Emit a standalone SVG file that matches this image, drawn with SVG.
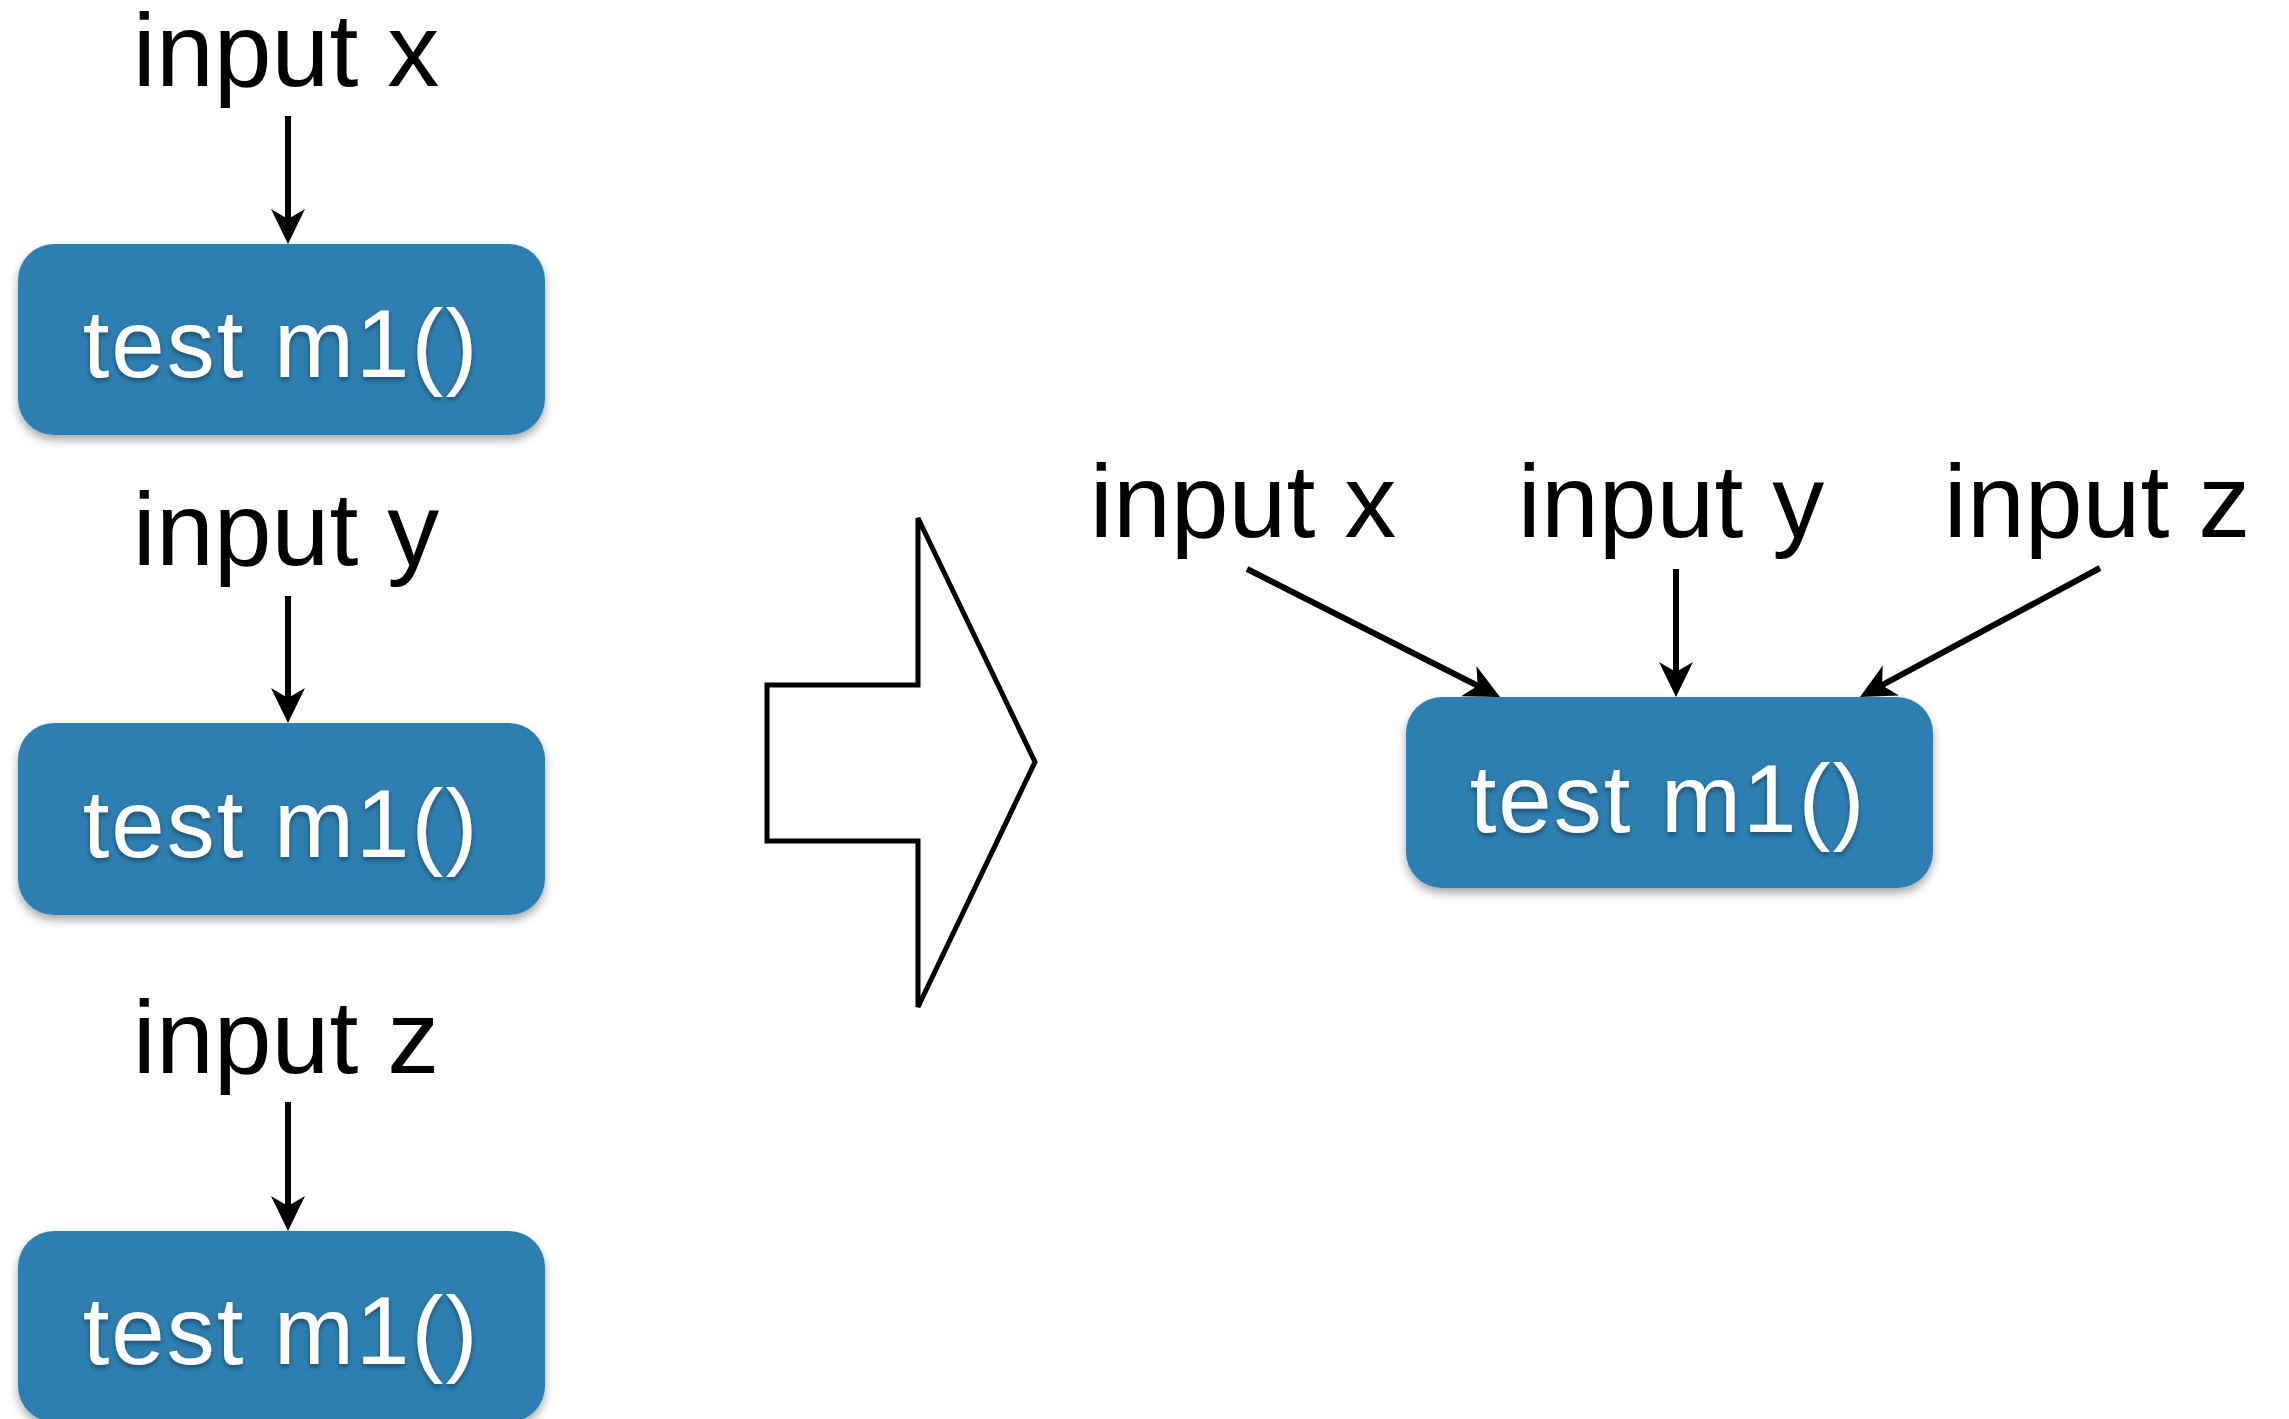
<svg xmlns="http://www.w3.org/2000/svg" width="2289" height="1419" viewBox="0 0 2289 1419">
  <style>
    .label { font-family: "Liberation Sans", Arial, sans-serif; font-size: 104px; fill: #000; text-anchor: middle; }
    .box { fill: #2f7fb1; filter: url(#boxShadow); }
    .boxText { font-family: "Liberation Sans", Arial, sans-serif; font-size: 96px; fill: #fff; text-anchor: middle; letter-spacing: 2px; filter: url(#textShadow); }
    .edge { stroke: #000; stroke-width: 6; fill: none; marker-end: url(#head); }
  </style>
  <defs>
    <marker id="head" markerUnits="userSpaceOnUse" viewBox="0 -18 36 36" refX="10" refY="0" markerWidth="36" markerHeight="36" orient="auto">
      <path d="M35,0 L0,-17 L10,0 L0,17 Z" fill="#000"/>
    </marker>
    <filter id="boxShadow" x="-10%" y="-10%" width="120%" height="130%">
      <feDropShadow dx="0" dy="5" stdDeviation="5" flood-color="#000" flood-opacity="0.35"/>
    </filter>
    <filter id="textShadow" x="-10%" y="-20%" width="120%" height="150%">
      <feDropShadow dx="0" dy="3" stdDeviation="2.5" flood-color="#0b2a40" flood-opacity="0.6"/>
    </filter>
  </defs>

  <!-- left column: one call per input -->
  <g id="label-x1"><text class="label" x="286" y="86">input x</text></g>
  <g id="node-m1-a">
    <rect class="box" x="18" y="244" width="527" height="191" rx="36"/>
    <text class="boxText" x="281" y="377">test m1()</text>
  </g>

  <g id="label-y1"><text class="label" x="286" y="565">input y</text></g>
  <g id="node-m1-b">
    <rect class="box" x="18" y="723" width="527" height="192" rx="36"/>
    <text class="boxText" x="281" y="857">test m1()</text>
  </g>

  <g id="label-z1"><text class="label" x="286" y="1073">input z</text></g>
  <g id="node-m1-c">
    <rect class="box" x="18" y="1231" width="527" height="191" rx="36"/>
    <text class="boxText" x="281" y="1364">test m1()</text>
  </g>

  <!-- hollow transform arrow -->
  <g id="transform-arrow">
    <polygon points="918,518 1035,762 918,1007 918,841 767,841 767,685 918,685" fill="#fff" stroke="#000" stroke-width="5" stroke-linejoin="miter"/>
  </g>

  <!-- right side: single call fed by all inputs -->
  <g id="label-x2"><text class="label" x="1243" y="537">input x</text></g>
  <g id="label-y2"><text class="label" x="1671" y="537">input y</text></g>
  <g id="label-z2"><text class="label" x="2097" y="537">input z</text></g>
  <g id="node-m1-merged">
    <rect class="box" x="1406" y="697" width="527" height="191" rx="36"/>
    <text class="boxText" x="1668" y="832">test m1()</text>
  </g>

  <!-- connectors -->
  <g id="connectors">
    <line class="edge" x1="288" y1="116" x2="288" y2="219"/>
    <line class="edge" x1="288" y1="596" x2="288" y2="698"/>
    <line class="edge" x1="288" y1="1102" x2="288" y2="1206"/>
    <line class="edge" x1="1247" y1="569" x2="1477.7" y2="685.7"/>
    <line class="edge" x1="1676" y1="569" x2="1676" y2="672"/>
    <line class="edge" x1="2100" y1="568" x2="1882" y2="685.2"/>
  </g>
</svg>
